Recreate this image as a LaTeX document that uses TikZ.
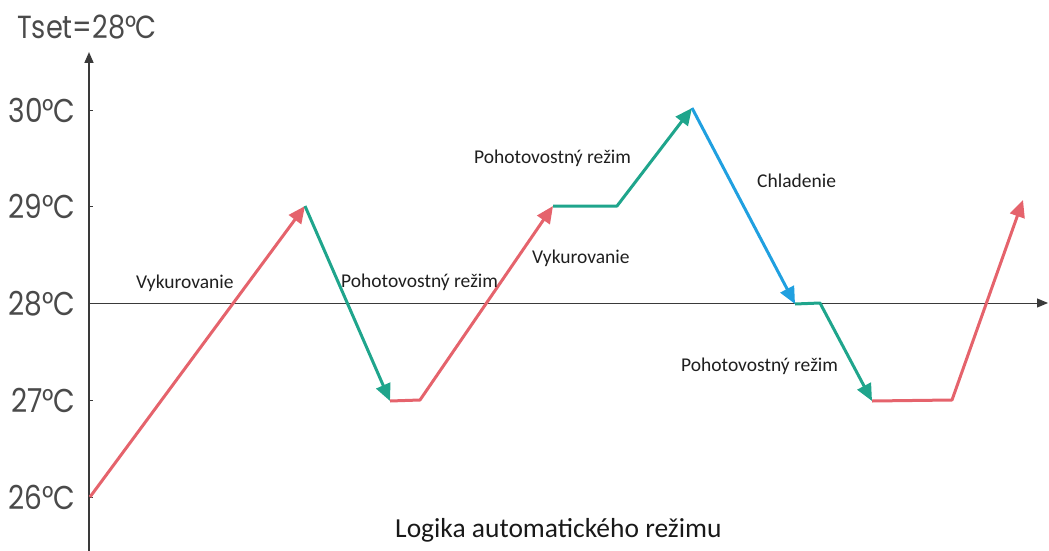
\documentclass[tikz,border=0pt]{standalone}
\usepackage{fontspec}
\setmainfont{Carlito}
\newfontfamily\axisfont[FakeStretch=0.85]{Poppins}
\usetikzlibrary{arrows.meta}
\definecolor{heat}{HTML}{E5636C}
\definecolor{standby}{HTML}{1FA58C}
\definecolor{cool}{HTML}{20A0E0}
\definecolor{axisgray}{HTML}{3A3A3A}
\definecolor{labelgray}{HTML}{4A4A4A}
\tikzset{
  seg/.style={line width=3pt, line join=round, -{Triangle[length=17pt,width=15pt]}},
  heatseg/.style={seg, draw=heat},
  standbyseg/.style={seg, draw=standby},
  coolseg/.style={seg, draw=cool},
  axisline/.style={draw=axisgray, -{Triangle[length=11pt,width=9pt]}},
  templabel/.style={font=\axisfont\fontsize{33}{33}\selectfont, text=labelgray, anchor=base east, inner sep=0},
  modelabel/.style={font=\fontsize{19.5}{21}\selectfont, text=black!88, anchor=base west, inner sep=0},
}
\begin{document}
\begin{tikzpicture}[x=1pt,y=-1pt]
\useasboundingbox (0,0) rectangle (1049,551);
% axes
\coordinate (ybot) at (89,551);
\coordinate (ytop) at (89,52);
\coordinate (xleft) at (89,303);
\coordinate (xright) at (1048,303);
\draw[axisline, line width=1.6pt] (ybot) -- (ytop);
\draw[axisline, line width=1pt] (xleft) -- (xright);
% ticks
\foreach \yy/\nm in {110/30,206/29,400/27,497/26}{
  \coordinate (t\nm a) at (89,\yy);
  \coordinate (t\nm b) at (93,\yy);
  \draw[axisgray, line width=1pt] (t\nm a) -- (t\nm b);
}
% temperature labels
\node[templabel] (l30) at (75,122) {30°\kern-1pt C};
\node[templabel] (l29) at (75,218) {29°\kern-1pt C};
\node[templabel] (l28) at (75,315) {28°\kern-1pt C};
\node[templabel] (l27) at (75,412) {27°\kern-1pt C};
\node[templabel] (l26) at (75,509) {26°\kern-1pt C};
\node[font=\axisfont\fontsize{32}{32}\selectfont, text=labelgray, anchor=base west, inner sep=0] (tset) at (17,38) {Tset=28°\kern-1pt C};
% path points
\coordinate (p0) at (90,497);
\coordinate (p1) at (305,206);
\coordinate (p2) at (390,401);
\coordinate (p3) at (420,400);
\coordinate (p4) at (553,206);
\coordinate (p5) at (617,206);
\coordinate (p6) at (692,108);
\coordinate (p7) at (795,304);
\coordinate (p8) at (820,303);
\coordinate (p9) at (872,401);
\coordinate (p10) at (952,400);
\coordinate (p11) at (1023,200);
% segments
\draw[heatseg] (p0) -- (p1);
\draw[standbyseg] (p1) -- (p2);
\draw[heatseg] (p2) -- (p3) -- (p4);
\draw[standbyseg] (p4) -- (p5) -- (p6);
\draw[coolseg] (p6) -- (p7);
\draw[standbyseg] (p7) -- (p8) -- (p9);
\draw[heatseg] (p9) -- (p10) -- (p11);
% mode labels
\node[modelabel] (m1) at (136,288) {Vykurovanie};
\node[modelabel] (m2) at (341,287) {Pohotovostný režim};
\node[modelabel] (m3) at (474,163) {Pohotovostný režim};
\node[modelabel] (m4) at (532,263) {Vykurovanie};
\node[modelabel] (m5) at (757,187) {Chladenie};
\node[modelabel] (m6) at (681,371) {Pohotovostný režim};
% title
\node[font=\fontsize{27.5}{30}\selectfont, text=black!90, anchor=base west, inner sep=0] (title) at (395,537) {Logika automatického režimu};
\end{tikzpicture}
\end{document}
